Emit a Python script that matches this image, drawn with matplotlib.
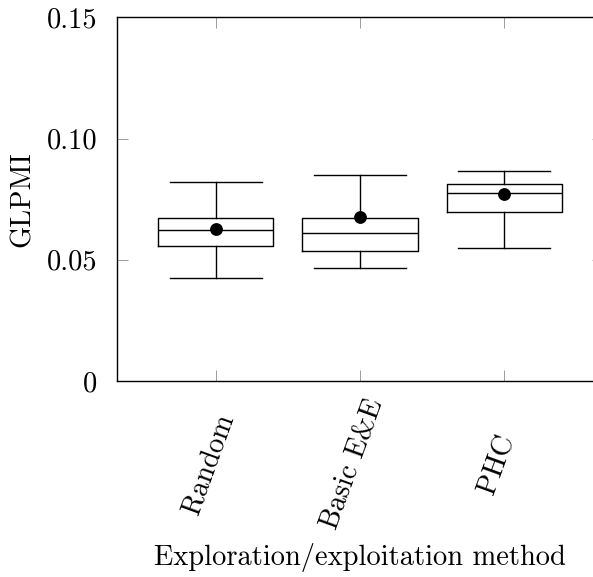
import matplotlib
matplotlib.use("Agg")
import matplotlib.pyplot as plt
from matplotlib.transforms import ScaledTranslation

plt.rcParams["font.family"] = ["cmr10", "DejaVu Serif"]
plt.rcParams["mathtext.fontset"] = "cm"
plt.rcParams["axes.unicode_minus"] = False

# Summary statistics of GLPMI per method
methods = ["Random", "Basic E&E", "PHC"]
whisker_low = [0.0425, 0.0465, 0.0550]
q1 = [0.0557, 0.0536, 0.0696]
median = [0.0622, 0.0610, 0.0775]
q3 = [0.0671, 0.0671, 0.0812]
whisker_high = [0.0821, 0.0851, 0.0866]
mean = [0.0628, 0.0678, 0.0770]

y_ticks = [0.0, 0.05, 0.10, 0.15]
y_tick_labels = ["0", "0.05", "0.10", "0.15"]

stats = [
    dict(label=m, whislo=wl, q1=a, med=md, q3=b, whishi=wh, mean=mn, fliers=[])
    for m, wl, a, md, b, wh, mn in zip(methods, whisker_low, q1, median, q3,
                                        whisker_high, mean)
]

fig = plt.figure(figsize=(5.93, 5.77), dpi=100)
ax = fig.add_axes([0.1973, 0.3397, 0.8196, 0.6303])

lw = 1.0
fs = 20.5
positions = list(range(len(methods)))
ax.bxp(
    stats,
    positions=positions,
    widths=0.8,
    capwidths=0.64,
    showmeans=True,
    showfliers=False,
    boxprops=dict(color="black", linewidth=lw),
    medianprops=dict(color="black", linewidth=lw),
    whiskerprops=dict(color="black", linewidth=lw),
    capprops=dict(color="black", linewidth=lw),
    meanprops=dict(marker="o", markerfacecolor="black", markeredgecolor="black",
                   markersize=8.2),
)

ax.set_xlim(-0.684, len(methods) - 1 + 0.684)
ax.set_ylim(0, 0.15)

for side in ["left", "right", "top", "bottom"]:
    ax.spines[side].set_linewidth(1.0)
    ax.spines[side].set_color("black")

ax.set_yticks(y_ticks)
ax.set_yticklabels(y_tick_labels, fontsize=fs)
ax.set_xticks(positions)
ax.set_xticklabels(methods, fontsize=fs, rotation=70, ha="center", va="center",
                   rotation_mode="anchor")

ax.tick_params(axis="both", direction="in", length=8, width=0.6, color="0.55",
               top=True, right=True)
ax.tick_params(axis="y", pad=14)
ax.tick_params(axis="x", pad=60)

shift = ScaledTranslation(-7 / 100, 0, fig.dpi_scale_trans)
for lbl in ax.get_xticklabels():
    lbl.set_transform(lbl.get_transform() + shift)

ax.set_ylabel("GLPMI", fontsize=fs, labelpad=8)
ax.set_xlabel("Exploration/exploitation method", fontsize=fs, labelpad=7)

fig.savefig("out.png", dpi=100)
